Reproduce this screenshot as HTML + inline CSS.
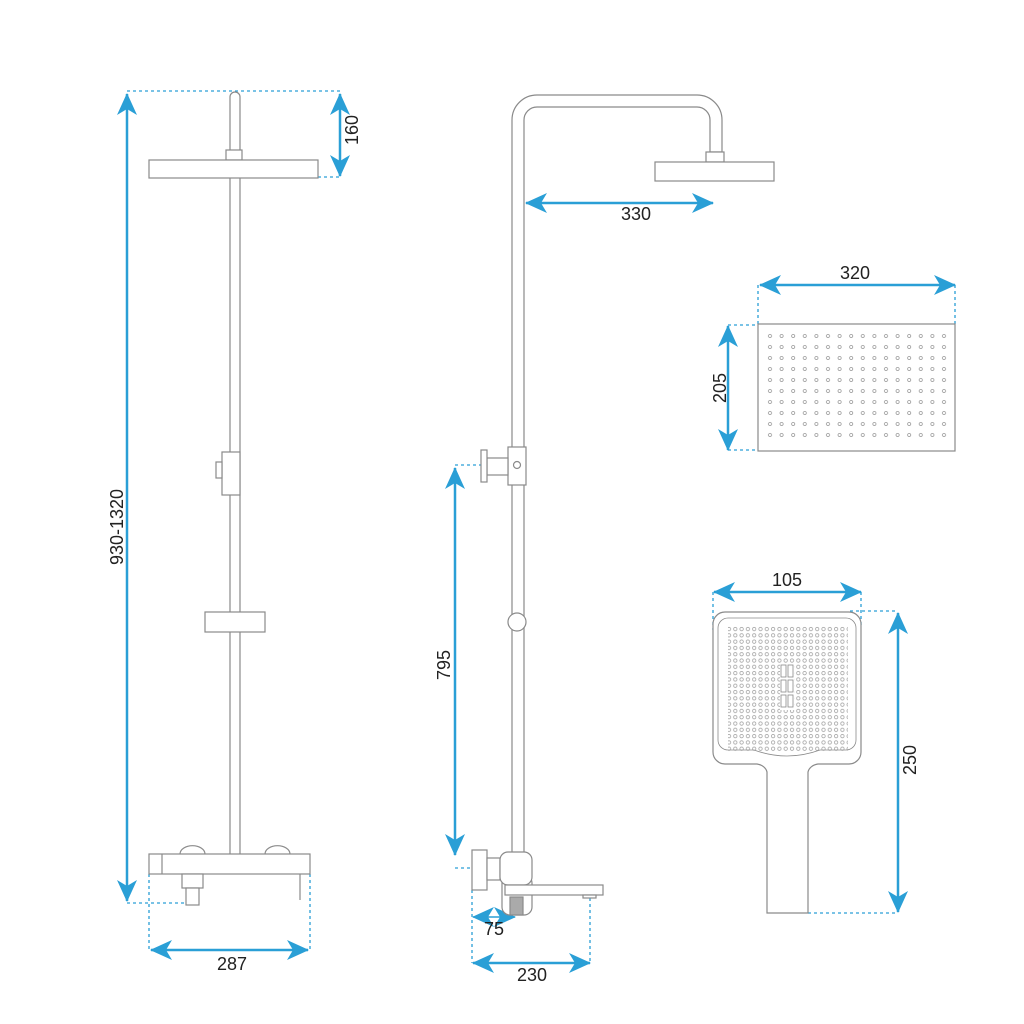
<!DOCTYPE html>
<html><head><meta charset="utf-8"><style>html,body{margin:0;padding:0;background:#fff}svg{display:block}</style></head>
<body>
<svg width="1024" height="1024" viewBox="0 0 1024 1024" xmlns="http://www.w3.org/2000/svg" font-family="Liberation Sans, sans-serif">
<defs>
<marker id="a" viewBox="0 0 22 20" refX="21" refY="10" markerWidth="22" markerHeight="20" markerUnits="userSpaceOnUse" orient="auto-start-reverse"><path d="M0,0 L22,10 L0,20 L6,10 Z" fill="#2a9fd6"/></marker>
<pattern id="d1" x="766" y="332" width="11.6" height="11" patternUnits="userSpaceOnUse"><circle cx="4" cy="4" r="1.6" fill="none" stroke="#999" stroke-width="0.8"/></pattern>
<pattern id="d2" x="726" y="626" width="6.3" height="6.3" patternUnits="userSpaceOnUse"><circle cx="3" cy="3" r="1.7" fill="none" stroke="#999" stroke-width="0.7"/></pattern>
</defs>
<g stroke="#2a9fd6" stroke-width="2.5" fill="none">
<line x1="127" y1="94" x2="127" y2="901" marker-start="url(#a)" marker-end="url(#a)"/>
<line x1="340" y1="94" x2="340" y2="176" marker-start="url(#a)" marker-end="url(#a)"/>
<line x1="151" y1="950" x2="308" y2="950" marker-start="url(#a)" marker-end="url(#a)"/>
<line x1="526" y1="203" x2="713" y2="203" marker-start="url(#a)" marker-end="url(#a)"/>
<line x1="455" y1="468" x2="455" y2="855" marker-start="url(#a)" marker-end="url(#a)"/>
<line x1="473" y1="917" x2="515" y2="917" marker-start="url(#a)" marker-end="url(#a)" stroke-width="1.5"/>
<line x1="473" y1="963" x2="590" y2="963" marker-start="url(#a)" marker-end="url(#a)"/>
<line x1="760" y1="285" x2="955" y2="285" marker-start="url(#a)" marker-end="url(#a)"/>
<line x1="728" y1="326" x2="728" y2="450" marker-start="url(#a)" marker-end="url(#a)"/>
<line x1="714" y1="592" x2="861" y2="592" marker-start="url(#a)" marker-end="url(#a)"/>
<line x1="898" y1="613" x2="898" y2="912" marker-start="url(#a)" marker-end="url(#a)"/>
</g>
<g stroke="#2a9fd6" stroke-width="1.3" stroke-dasharray="3,3" fill="none">
<path d="M127 91H340M318 177H340M127 903H190M149 874V950M310 874V950"/>
<path d="M455 465H481M455 868H472M472 890V963M590 898V963"/>
<path d="M758 285V324M955 285V324M728 325H760M728 450H760"/>
<path d="M713 592V630M861 592V628M850 611H898M808 913H898"/>
</g>
<g stroke="#8a8a8a" stroke-width="1.2" fill="#fff">
<path d="M230 855V97a5 5 0 0 1 10 0V855"/>
<rect x="226" y="150" width="16" height="10"/>
<rect x="149" y="160" width="169" height="18"/>
<rect x="222" y="452" width="18" height="43"/>
<rect x="216" y="462" width="6" height="16"/>
<rect x="205" y="612" width="60" height="20"/>
<path d="M180 854a12 8 0 0 1 25 0M265 854a12 8 0 0 1 25 0"/>
<rect x="149" y="854" width="161" height="20"/>
<line x1="162" y1="854" x2="162" y2="874"/>
<path d="M300 874V900"/>
<rect x="182" y="874" width="21" height="14"/>
<rect x="186" y="888" width="13" height="17"/>
<path d="M512 855V120a25 25 0 0 1 25 -25H697a25 25 0 0 1 25 25V152H710V120a13 13 0 0 0 -13 -13H537a13 13 0 0 0 -13 13V855Z"/>
<rect x="706" y="152" width="18" height="10"/>
<rect x="655" y="162" width="119" height="19"/>
<rect x="508" y="447" width="18" height="38"/>
<circle cx="517" cy="465" r="3.5"/>
<rect x="487" y="458" width="21" height="17"/>
<rect x="481" y="450" width="6" height="32"/>
<circle cx="517" cy="622" r="9"/>
<rect x="502" y="875" width="30" height="40" rx="8"/>
<rect x="472" y="850" width="15" height="40"/>
<rect x="487" y="858" width="13" height="22"/>
<rect x="500" y="852" width="32" height="33" rx="8"/>
<rect x="505" y="885" width="98" height="10"/>
<rect x="583" y="895" width="13" height="3"/>
<rect x="510" y="897" width="13" height="18" fill="#aaa"/>
<rect x="758" y="324" width="197" height="127"/>
<rect x="764" y="330" width="186" height="112" fill="url(#d1)" stroke="none"/>
<path d="M767 913V772a12 10 0 0 0 -10 -8H725a12 12 0 0 1 -12 -12V624a12 12 0 0 1 12 -12H849a12 12 0 0 1 12 12V752a12 12 0 0 1 -12 12H818a12 10 0 0 0 -10 8V913Z"/>
<path d="M718 740V628a10 10 0 0 1 10 -10H846a10 10 0 0 1 10 10V740a10 10 0 0 1 -10 10H820q-33 12 -66 0H728a10 10 0 0 1 -10 -10Z" stroke-width="0.8"/>
<rect x="728" y="626" width="120" height="126" fill="url(#d2)" stroke="none"/>
<rect x="780" y="664" width="14" height="46" fill="#fff" stroke="none"/>
<g stroke-width="0.8"><rect x="781" y="665" width="5" height="12"/><rect x="788" y="665" width="5" height="12"/><rect x="781" y="680" width="5" height="12"/><rect x="788" y="680" width="5" height="12"/><rect x="781" y="695" width="5" height="12"/><rect x="788" y="695" width="5" height="12"/></g>
</g>
<g fill="#222" font-size="18">
<text x="232" y="970" text-anchor="middle">287</text>
<text x="636" y="220" text-anchor="middle">330</text>
<text x="494" y="935" text-anchor="middle">75</text>
<text x="532" y="981" text-anchor="middle">230</text>
<text x="855" y="279" text-anchor="middle">320</text>
<text x="787" y="586" text-anchor="middle">105</text>
<text transform="translate(358,130) rotate(-90)" text-anchor="middle">160</text>
<text transform="translate(123,527) rotate(-90)" text-anchor="middle">930-1320</text>
<text transform="translate(450,665) rotate(-90)" text-anchor="middle">795</text>
<text transform="translate(726,388) rotate(-90)" text-anchor="middle">205</text>
<text transform="translate(916,760) rotate(-90)" text-anchor="middle">250</text>
</g>
</svg>
</body></html>
